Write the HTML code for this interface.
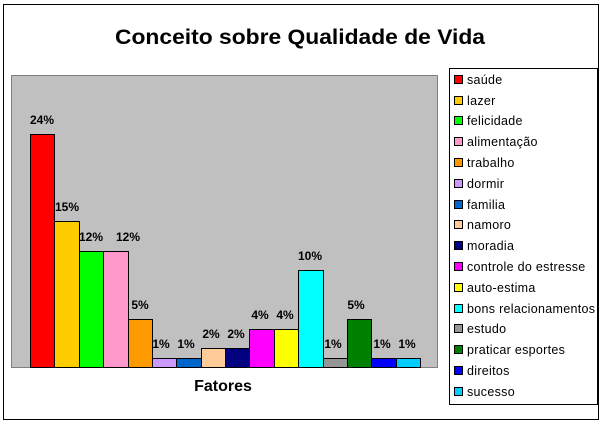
<!DOCTYPE html>
<html><head><meta charset="utf-8"><style>body{margin:0;background:#fff}svg{display:block}</style></head>
<body>
<svg width="603" height="427" xmlns="http://www.w3.org/2000/svg" font-family="Liberation Sans, Arial, sans-serif">
<rect x="0" y="0" width="603" height="427" fill="#fff"/>
<rect x="3.5" y="4.5" width="595" height="415" fill="#fff" stroke="#000" stroke-width="1"/>
<text x="300" y="44" font-size="21" font-weight="bold" text-anchor="middle" textLength="370" lengthAdjust="spacingAndGlyphs">Conceito sobre Qualidade de Vida</text>
<rect x="11.5" y="75.5" width="426" height="292" fill="#c0c0c0" stroke="#808080" stroke-width="1"/>
<g stroke="#000" stroke-width="1">
<rect x="30.5" y="134.5" width="24" height="233" fill="#ff0000"/>
<rect x="54.5" y="221.5" width="25" height="146" fill="#ffcc00"/>
<rect x="79.5" y="251.5" width="24" height="116" fill="#00ff00"/>
<rect x="103.5" y="251.5" width="25" height="116" fill="#ff99cc"/>
<rect x="128.5" y="319.5" width="24" height="48" fill="#ff9900"/>
<rect x="152.5" y="358.5" width="24" height="9" fill="#cc99ff"/>
<rect x="176.5" y="358.5" width="25" height="9" fill="#0066cc"/>
<rect x="201.5" y="348.5" width="24" height="19" fill="#ffcc99"/>
<rect x="225.5" y="348.5" width="24" height="19" fill="#000080"/>
<rect x="249.5" y="329.5" width="25" height="38" fill="#ff00ff"/>
<rect x="274.5" y="329.5" width="24" height="38" fill="#ffff00"/>
<rect x="298.5" y="270.5" width="25" height="97" fill="#00ffff"/>
<rect x="323.5" y="358.5" width="24" height="9" fill="#969696"/>
<rect x="347.5" y="319.5" width="24" height="48" fill="#008000"/>
<rect x="371.5" y="358.5" width="25" height="9" fill="#0000ff"/>
<rect x="396.5" y="358.5" width="24" height="9" fill="#00ccff"/>
</g>
<g font-size="12" font-weight="bold" text-anchor="middle">
<text x="42" y="124">24%</text>
<text x="67" y="211">15%</text>
<text x="91" y="241">12%</text>
<text x="128" y="241">12%</text>
<text x="140" y="309">5%</text>
<text x="161" y="348">1%</text>
<text x="186" y="348">1%</text>
<text x="211" y="338">2%</text>
<text x="236" y="338">2%</text>
<text x="260" y="319">4%</text>
<text x="285" y="319">4%</text>
<text x="310" y="260">10%</text>
<text x="333" y="348">1%</text>
<text x="356" y="309">5%</text>
<text x="382" y="348">1%</text>
<text x="407" y="348">1%</text>
</g>
<text x="223" y="391" font-size="16" font-weight="bold" text-anchor="middle">Fatores</text>
<rect x="449.5" y="68.5" width="148" height="336" fill="#fff" stroke="#000" stroke-width="1"/>
<g stroke="#000" stroke-width="1">
<rect x="454.5" y="75.5" width="8" height="8" fill="#ff0000"/>
<rect x="454.5" y="96.5" width="8" height="8" fill="#ffcc00"/>
<rect x="454.5" y="116.5" width="8" height="8" fill="#00ff00"/>
<rect x="454.5" y="137.5" width="8" height="8" fill="#ff99cc"/>
<rect x="454.5" y="158.5" width="8" height="8" fill="#ff9900"/>
<rect x="454.5" y="179.5" width="8" height="8" fill="#cc99ff"/>
<rect x="454.5" y="200.5" width="8" height="8" fill="#0066cc"/>
<rect x="454.5" y="220.5" width="8" height="8" fill="#ffcc99"/>
<rect x="454.5" y="241.5" width="8" height="8" fill="#000080"/>
<rect x="454.5" y="262.5" width="8" height="8" fill="#ff00ff"/>
<rect x="454.5" y="283.5" width="8" height="8" fill="#ffff00"/>
<rect x="454.5" y="304.5" width="8" height="8" fill="#00ffff"/>
<rect x="454.5" y="324.5" width="8" height="8" fill="#969696"/>
<rect x="454.5" y="345.5" width="8" height="8" fill="#008000"/>
<rect x="454.5" y="366.5" width="8" height="8" fill="#0000ff"/>
<rect x="454.5" y="387.5" width="8" height="8" fill="#00ccff"/>
</g>
<g font-size="12.5" letter-spacing="0.3">
<text x="467" y="84">saúde</text>
<text x="467" y="105">lazer</text>
<text x="467" y="125">felicidade</text>
<text x="467" y="146">alimentação</text>
<text x="467" y="167">trabalho</text>
<text x="467" y="188">dormir</text>
<text x="467" y="209">familia</text>
<text x="467" y="229">namoro</text>
<text x="467" y="250">moradia</text>
<text x="467" y="271">controle do estresse</text>
<text x="467" y="292">auto-estima</text>
<text x="467" y="313">bons relacionamentos</text>
<text x="467" y="333">estudo</text>
<text x="467" y="354">praticar esportes</text>
<text x="467" y="375">direitos</text>
<text x="467" y="396">sucesso</text>
</g>
</svg>
</body></html>
